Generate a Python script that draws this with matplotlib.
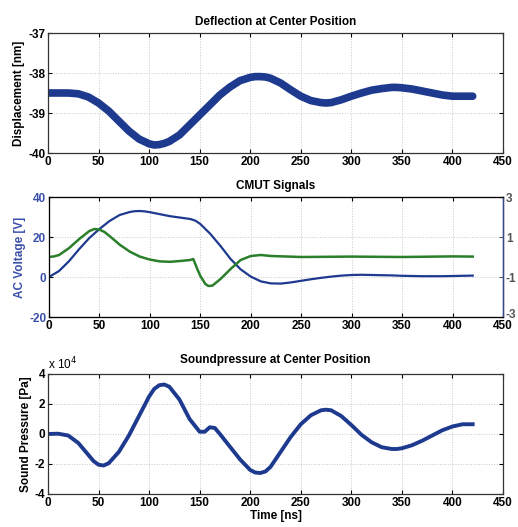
import matplotlib
matplotlib.use("Agg")
import matplotlib.pyplot as plt
from matplotlib.ticker import ScalarFormatter
import matplotlib.transforms as mtransforms

plt.rcParams['font.family'] = ['Liberation Sans', 'DejaVu Sans']
plt.rcParams['axes.unicode_minus'] = False

# ---- data ----
t_disp = [0, 10, 20, 30, 40, 50, 60, 70, 80, 90, 100, 105, 110, 115, 120, 130, 140, 150, 160, 170, 180, 190,
          200, 205, 210, 215, 220, 230, 240, 250, 260, 270, 275, 280, 290, 300, 310, 320, 330, 340, 345, 350,
          360, 370, 380, 390, 400, 410, 420]
displacement = [-38.5, -38.5, -38.5, -38.52, -38.6, -38.75, -38.95, -39.2, -39.45, -39.65, -39.77, -39.8,
                -39.79, -39.76, -39.71, -39.55, -39.3, -39.05, -38.8, -38.55, -38.35, -38.19, -38.11, -38.09,
                -38.09, -38.1, -38.13, -38.25, -38.42, -38.58, -38.69, -38.74, -38.75, -38.74, -38.67, -38.58,
                -38.5, -38.43, -38.39, -38.36, -38.36, -38.37, -38.4, -38.45, -38.5, -38.55, -38.58, -38.58,
                -38.58]

t_ac = [0, 10, 20, 30, 40, 50, 60, 70, 80, 85, 90, 95, 100, 110, 120, 130, 140, 145, 150, 160, 170, 180, 190,
        200, 210, 220, 230, 240, 250, 260, 270, 280, 290, 300, 310, 320, 330, 340, 350, 360, 370, 380, 390,
        400, 410, 420]
ac_voltage = [0, 3, 8, 14, 19.5, 24, 28, 31, 32.5, 32.9, 33, 32.8, 32.4, 31.4, 30.4, 29.7, 29, 28.2, 26.5,
              21.5, 15.5, 9, 3.8, 0.2, -2.2, -3.2, -3.3, -2.7, -1.9, -1.1, -0.4, 0.2, 0.7, 1, 1.1, 1, 0.9,
              0.8, 0.6, 0.5, 0.4, 0.4, 0.4, 0.5, 0.6, 0.7]

t_sig = [0, 5, 10, 20, 30, 40, 45, 50, 55, 60, 70, 80, 90, 100, 110, 120, 130, 140, 143, 147, 150, 155, 158,
         162, 170, 180, 190, 200, 210, 220, 250, 300, 350, 400, 420]
signal2 = [0, 0.03, 0.1, 0.45, 0.9, 1.3, 1.4, 1.37, 1.25, 1.05, 0.62, 0.27, 0.02, -0.13, -0.22, -0.24, -0.2,
           -0.15, -0.1, -0.6, -0.95, -1.35, -1.45, -1.43, -1.1, -0.6, -0.15, 0.05, 0.1, 0.05, 0.0, 0.02,
           0.0, 0.03, 0.02]

t_sp = [0, 10, 20, 30, 40, 45, 50, 55, 60, 70, 80, 90, 100, 105, 110, 115, 120, 130, 140, 150, 155, 160, 165,
        170, 180, 190, 200, 205, 210, 215, 220, 230, 240, 250, 260, 270, 275, 280, 290, 300, 310, 320, 330,
        340, 345, 350, 360, 370, 380, 390, 400, 410, 420]
sound_pressure = [0, 0.02, -0.1, -0.6, -1.4, -1.8, -2.05, -2.1, -1.95, -1.2, -0.1, 1.2, 2.5, 3.0, 3.25,
                  3.3, 3.15, 2.3, 1.0, 0.15, 0.15, 0.45, 0.4, 0.0, -0.85, -1.7, -2.4, -2.57, -2.6, -2.5,
                  -2.2, -1.2, -0.2, 0.65, 1.25, 1.58, 1.62, 1.58, 1.2, 0.6, -0.05, -0.55, -0.88, -1.0,
                  -1.0, -0.95, -0.75, -0.45, -0.1, 0.25, 0.5, 0.65, 0.65]
sound_pressure = [v * 1e4 for v in sound_pressure]

x_ticks = [0, 50, 100, 150, 200, 250, 300, 350, 400, 450]

BLUE = '#1e3a8f'
GREEN = '#2a7f2a'
FS = 8.5

W, H = 518, 527
fig = plt.figure(figsize=(W / 100, H / 100), dpi=100)


def rect(l, t, r, b):
    return [l / W, 1 - b / H, (r - l) / W, (b - t) / H]


def style(ax, grid=True):
    ax.set_xlim(0, 450)
    ax.set_xticks(x_ticks)
    ax.tick_params(direction='in', length=3, width=0.8, top=True, right=True, labelsize=FS, pad=2)
    for lab in ax.get_xticklabels() + ax.get_yticklabels():
        lab.set_fontweight('bold')
    for s in ax.spines.values():
        s.set_linewidth(0.9)
        s.set_color('#333333')
    if grid:
        ax.grid(True, linestyle=':', color='#c8c8c8', linewidth=0.7)


# top
ax1 = fig.add_axes(rect(48, 33, 503, 153))
ax1.plot(t_disp, displacement, color=BLUE, linewidth=5.5, solid_capstyle='round', solid_joinstyle='round')
ax1.set_ylim(-40, -37)
ax1.set_yticks([-40, -39, -38, -37])
style(ax1)
ax1.set_title('Deflection at Center Position', fontsize=FS, fontweight='bold', pad=6)
ax1.set_ylabel('Displacement [nm]', fontsize=FS, fontweight='bold', labelpad=2)

# middle
ax2 = fig.add_axes(rect(49, 197, 503, 317))
ax2.plot(t_ac, ac_voltage, color=BLUE, linewidth=1.6, solid_joinstyle='round')
ax2.set_ylim(-20, 40)
ax2.set_yticks([-20, 0, 20, 40])
style(ax2)
ax2.tick_params(right=False)
ax2.set_title('CMUT Signals', fontsize=FS, fontweight='bold', pad=6)
ax2.set_ylabel('AC Voltage [V]', fontsize=FS, fontweight='bold', color='#3a4fa8', labelpad=2)
for lab in ax2.get_yticklabels():
    lab.set_color('#3a4fa8')
ax2b = ax2.twinx()
ax2b.plot(t_sig, signal2, color=GREEN, linewidth=1.8, solid_joinstyle='round')
ax2b.set_ylim(-3, 3)
ax2b.set_yticks([-3, -1, 1, 3])
ax2b.tick_params(direction='in', length=3, labelsize=FS, pad=2, colors='#555555')
ax2b.spines['right'].set_color('#3a4a90')
ax2b.spines['right'].set_linewidth(1.0)
for lab in ax2b.get_yticklabels():
    lab.set_fontweight('bold')
# nudge the bottom-right label up a little so it does not collide with "450"
lab_m3 = ax2b.get_yticklabels()[0]
lab_m3.set_transform(lab_m3.get_transform() + mtransforms.ScaledTranslation(0, 3 / 100, fig.dpi_scale_trans))

# bottom
ax3 = fig.add_axes(rect(48, 374, 503, 494))
ax3.plot(t_sp, sound_pressure, color=BLUE, linewidth=2.8, solid_joinstyle='round')
ax3.set_ylim(-4e4, 4e4)
ax3.set_yticks([-4e4, -2e4, 0, 2e4, 4e4])
fmt = ScalarFormatter(useMathText=False)
fmt.set_powerlimits((0, 0))
ax3.yaxis.set_major_formatter(fmt)
style(ax3)
ax3.yaxis.get_offset_text().set_visible(False)
ax3.text(0, 1.01, r'x 10$^{4}$', transform=ax3.transAxes, fontsize=FS, va='bottom', ha='left')
ax3.set_title('Soundpressure at Center Position', fontsize=FS, fontweight='bold', pad=8)
ax3.set_ylabel('Sound Pressure [Pa]', fontsize=FS, fontweight='bold', labelpad=2)
ax3.set_xlabel('Time [ns]', fontsize=FS, fontweight='bold', labelpad=1)

fig.savefig('out.png', dpi=100)
